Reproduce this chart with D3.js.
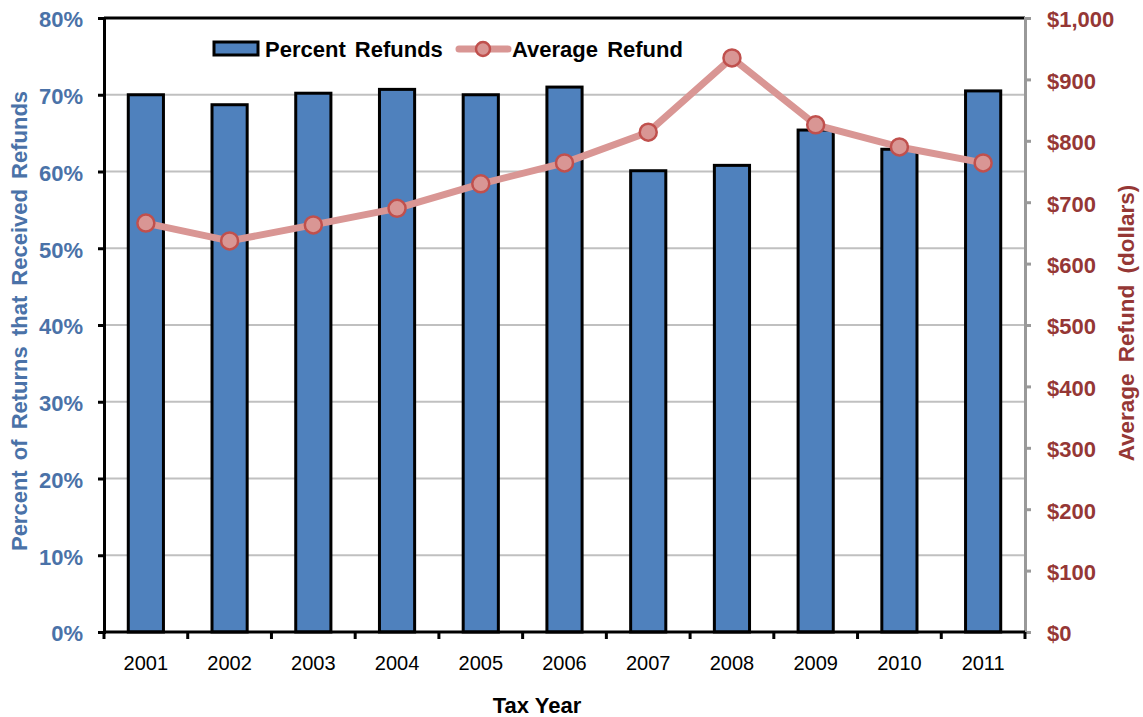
<!DOCTYPE html>
<html><head><meta charset="utf-8">
<script src="https://cdn.jsdelivr.net/npm/d3@7"></script>
<style>body{margin:0;background:#fff;} svg{display:block;font-family:"Liberation Sans",Arial,sans-serif;}</style>
</head><body>
<svg id="c" width="1143" height="717"></svg>
<script>
const years = ["2001","2002","2003","2004","2005","2006","2007","2008","2009","2010","2011"];
const percentRefunds = [70.0, 68.7, 70.2, 70.7, 70.0, 71.0, 60.1, 60.8, 65.4, 62.9, 70.5];
const averageRefund = [666, 637, 663, 690, 730, 764, 814, 935, 826, 790, 764];
const leftTicks = [0,10,20,30,40,50,60,70,80];
const rightTicks = [0,100,200,300,400,500,600,700,800,900,1000];

const svg = d3.select("#c");
const m = {l:104, r:1025, t:18, b:632};
const x = d3.scaleBand().domain(years).range([m.l, m.r]).paddingInner(0.58).paddingOuter(0.29);
const yL = d3.scaleLinear().domain([0,80]).range([m.b, m.t]);
const yR = d3.scaleLinear().domain([0,1000]).range([m.b, m.t]);
const blue = "#4a72a8", red = "#953735";
const FF = "Liberation Sans, Arial, sans-serif";

// gridlines
svg.append("g").selectAll("line").data(leftTicks.filter(d=>d>0 && d<80)).join("line")
  .attr("x1", m.l).attr("x2", m.r).attr("y1", d=>yL(d)).attr("y2", d=>yL(d))
  .attr("stroke", "#c0c0c0").attr("stroke-width", 2);

// bars
svg.append("g").selectAll("rect").data(years).join("rect")
  .attr("x", d=>x(d)).attr("width", x.bandwidth())
  .attr("y", (d,i)=>yL(percentRefunds[i])).attr("height", (d,i)=>m.b - yL(percentRefunds[i]))
  .attr("fill", "#4f81bd").attr("stroke", "#000").attr("stroke-width", 3);

// top border
svg.append("line").attr("x1", m.l).attr("x2", m.r).attr("y1", m.t).attr("y2", m.t).attr("stroke","#000").attr("stroke-width",3);

// left axis
const gL = svg.append("g").attr("transform", `translate(${m.l},0)`)
  .call(d3.axisLeft(yL).tickValues(leftTicks).tickFormat(d=>d+"%").tickSize(6).tickPadding(15));
gL.select(".domain").attr("stroke","#000").attr("stroke-width",3);
gL.selectAll(".tick line").attr("stroke","#000").attr("stroke-width",3);
gL.selectAll("text").attr("fill", blue).attr("font-size", 22).attr("font-weight","bold").attr("font-family",FF).attr("dy","0.4em");

// right axis
const gR = svg.append("g").attr("transform", `translate(${m.r},0)`)
  .call(d3.axisRight(yR).tickValues(rightTicks).tickFormat(d=>"$"+d3.format(",")(d)).tickSize(6).tickPadding(16));
gR.select(".domain").attr("stroke","#999").attr("stroke-width",3);
gR.selectAll(".tick line").attr("stroke","#999").attr("stroke-width",3);
gR.selectAll("text").attr("fill", red).attr("font-size", 22).attr("font-weight","bold").attr("font-family",FF).attr("dy","0.4em");

// bottom axis
const boundaries = years.map(d=>x(d) - x.step()*x.paddingInner()/2).concat([m.r]);
svg.append("line").attr("x1", m.l).attr("x2", m.r).attr("y1", m.b).attr("y2", m.b).attr("stroke","#000").attr("stroke-width",3);
svg.append("g").selectAll("line").data(boundaries).join("line")
  .attr("x1", d=>d).attr("x2", d=>d).attr("y1", m.b).attr("y2", m.b+7).attr("stroke","#000").attr("stroke-width",3);
svg.append("g").selectAll("text").data(years).join("text")
  .attr("x", d=>x(d)+x.bandwidth()/2).attr("y", 670).attr("text-anchor","middle")
  .attr("font-size", 20).attr("fill","#000").text(d=>d);

// line
const lineGen = d3.line().x((d,i)=>x(years[i])+x.bandwidth()/2).y(d=>yR(d));
svg.append("path").datum(averageRefund).attr("d", lineGen)
  .attr("fill","none").attr("stroke","#d99694").attr("stroke-width",7).attr("stroke-linejoin","round");
svg.append("g").selectAll("circle").data(averageRefund).join("circle")
  .attr("cx", (d,i)=>x(years[i])+x.bandwidth()/2).attr("cy", d=>yR(d)).attr("r", 8.5)
  .attr("fill","#d99694").attr("stroke","#c0504d").attr("stroke-width",2.5);

// axis titles
svg.append("text").attr("transform","translate(27,321) rotate(-90)").attr("text-anchor","middle")
  .attr("font-size",22).attr("font-weight","bold").attr("word-spacing",4).attr("fill",blue).text("Percent of Returns that Received Refunds");
svg.append("text").attr("transform","translate(1134,323) rotate(-90)").attr("text-anchor","middle")
  .attr("font-size",22.5).attr("font-weight","bold").attr("word-spacing",5).attr("fill",red).text("Average Refund (dollars)");
svg.append("text").attr("x", 537).attr("y", 713).attr("text-anchor","middle")
  .attr("font-size",22).attr("font-weight","bold").attr("fill","#000").text("Tax Year");

// legend
const lg = svg.append("g");
lg.append("rect").attr("x",214).attr("y",42).attr("width",44).attr("height",13)
  .attr("fill","#4f81bd").attr("stroke","#000").attr("stroke-width",3);
lg.append("text").attr("x",265).attr("y",57).attr("font-size",22).attr("font-weight","bold").attr("word-spacing",3).attr("fill","#000").text("Percent Refunds");
lg.append("line").attr("x1",459).attr("x2",508).attr("y1",49).attr("y2",49).attr("stroke","#d99694").attr("stroke-width",7).attr("stroke-linecap","round");
lg.append("circle").attr("cx",483).attr("cy",49).attr("r",7).attr("fill","#d99694").attr("stroke","#c0504d").attr("stroke-width",2.5);
lg.append("text").attr("x",512).attr("y",57).attr("font-size",22).attr("font-weight","bold").attr("word-spacing",3).attr("fill","#000").text("Average Refund");
</script>
</body></html>
